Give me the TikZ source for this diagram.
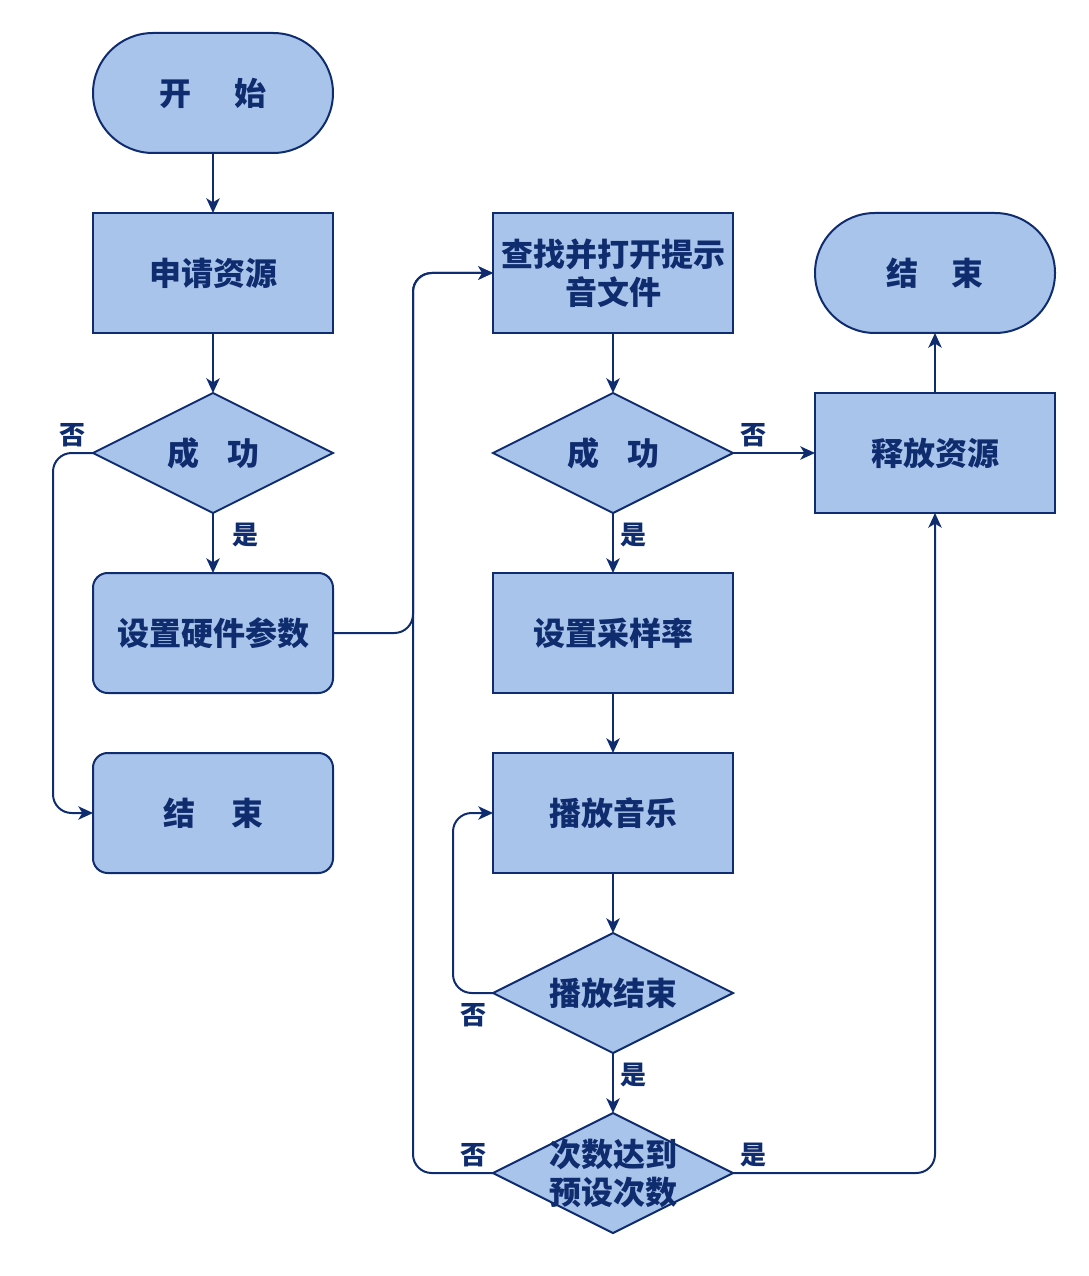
\documentclass[tikz,border=0pt]{standalone}
\usepackage{fontspec}
\setmainfont{Noto Sans CJK SC}
\usetikzlibrary{shapes.geometric,arrows.meta}
\definecolor{boxfill}{HTML}{A9C4EB}
\definecolor{navy}{HTML}{0F2C6E}
\tikzset{
  base/.style={draw=navy, fill=boxfill, line width=1.5pt, minimum width=180pt, minimum height=90pt, inner sep=0pt, outer sep=0pt, text=navy, font=\bfseries\fontsize{24}{28.5}\selectfont, align=center},
  term/.style={base, rounded corners=45pt},
  proc/.style={base},
  rproc/.style={base, rounded corners=11pt},
  dec/.style={base, diamond},
  dtext/.style={text=navy, font=\bfseries\fontsize{24}{28.5}\selectfont, align=center, inner sep=0pt},
  lab/.style={text=navy, font=\bfseries\fontsize{19.5}{21}\selectfont, inner sep=0pt},
  arr/.style={draw=navy, line width=1.5pt, -{Stealth[length=11pt,width=10pt,inset=3pt]}},
  rc/.style={rounded corners=14pt}
}
\begin{document}
\begin{tikzpicture}[x=0.75pt,y=-0.75pt]
\useasboundingbox (0,0) rectangle (1088,1276);
% left column
\node[term] (start) at (213,93) {开\hspace{32pt}始};
\node[proc] (req) at (213,273) {申请资源};
\node[dec] (d1) at (213,453) {};
\node[dtext] (d1t) at (213,453) {成\hspace{21pt}功};
\node[rproc] (hw) at (213,633) {设置硬件参数};
\node[rproc] (endL) at (213,813) {结\hspace{27pt}束};
% middle column
\node[proc] (find) at (613,273) {查找并打开提示\\音文件};
\node[dec] (d2) at (613,453) {};
\node[dtext] (d2t) at (613,453) {成\hspace{21pt}功};
\node[proc] (rate) at (613,633) {设置采样率};
\node[proc] (play) at (613,813) {播放音乐};
\node[dec] (d3) at (613,993) {};
\node[dtext] (d3t) at (613,993) {播放结束};
\node[dec] (d4) at (613,1173) {};
\node[dtext] (d4t) at (613,1173) {次数达到\\预设次数};
% right column
\node[term] (endR) at (935,273) {结\hspace{25pt}束};
\node[proc] (rel) at (935,453) {释放资源};
% connectors
\draw[arr] (start) -- (req);
\draw[arr] (req) -- (d1);
\draw[arr] (d1) -- (hw);
\draw[arr,rc] (d1.west) -- ++(-40,0) |- (endL.west);
\draw[arr,rc] (hw.east) -- ++(80,0) |- (find.west);
\draw[arr,rc] (d4.west) -- ++(-80,0) |- (find.west);
\draw[arr] (find) -- (d2);
\draw[arr] (d2.east) -- (rel.west);
\draw[arr] (d2) -- (rate);
\draw[arr] (rate) -- (play);
\draw[arr] (play) -- (d3);
\draw[arr,rc] (d3.west) -- ++(-40,0) |- (play.west);
\draw[arr] (d3) -- (d4);
\draw[arr,rc] (d4.east) -| (rel.south);
\draw[arr] (rel) -- (endR);
% labels
\node[lab] (l1) at (72,435) {否};
\node[lab] (l2) at (245,535) {是};
\node[lab] (l3) at (753,435) {否};
\node[lab] (l4) at (633,535) {是};
\node[lab] (l5) at (473,1015) {否};
\node[lab] (l6) at (633,1075) {是};
\node[lab] (l7) at (473,1155) {否};
\node[lab] (l8) at (753,1155) {是};
\end{tikzpicture}
\end{document}
